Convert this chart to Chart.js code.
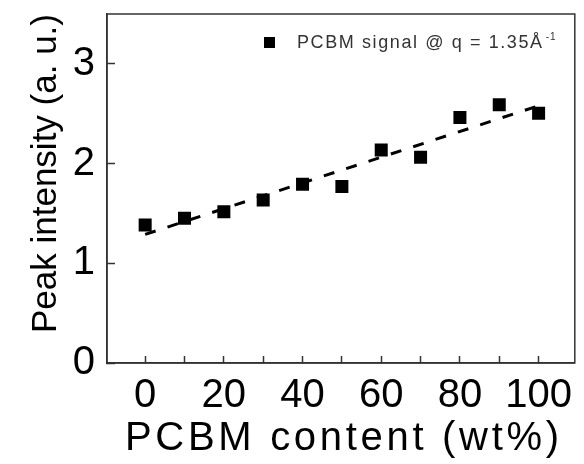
<!DOCTYPE html>
<html>
<head>
<meta charset="utf-8">
<script src="https://cdn.jsdelivr.net/npm/chart.js@4.4.1/dist/chart.umd.min.js"></script>
<style>
    html, body { margin: 0; padding: 0; background: #fff; }
    #wrap { width: 584px; height: 464px; }
</style>
</head>
<body>
<div id="wrap"><canvas id="peakChart"></canvas></div>
<script>
// values
const pcbmContent = [0, 10, 20, 30, 40, 50, 60, 70, 80, 90, 100];
const peakIntensity = [1.385, 1.452, 1.518, 1.635, 1.793, 1.769, 2.137, 2.064, 2.461, 2.589, 2.505];
// dashed linear fit
const fitContent = [0, 100];
const fitIntensity = [1.29, 2.58];

const xTicks = [0, 10, 20, 30, 40, 50, 60, 70, 80, 90, 100];
const xLabels = [0, 20, 40, 60, 80, 100];
const yTicks = [0, 0.5, 1, 1.5, 2, 2.5, 3, 3.5];
const yLabels = [0, 1, 2, 3];

const xTitle = 'PCBM content (wt%)';
const yTitle = 'Peak intensity (a. u.)';
const legendLabel = 'PCBM signal @ q = 1.35Å';
const legendSup = '-1';

const FONT = "'Liberation Sans', Arial, sans-serif";
const AXIS = '#333';

// box around the plot, spaced-out x title, legend in the top right corner
const frameLegend = {
    id: 'frameLegend',
    afterDraw(chart) {
        const ctx = chart.ctx;
        const a = chart.chartArea;
        ctx.save();
        ctx.strokeStyle = AXIS;
        ctx.lineWidth = 1.5;
        ctx.strokeRect(a.left, a.top, a.right - a.left, a.bottom - a.top);

        ctx.fillStyle = '#000';
        ctx.font = '40px ' + FONT;
        ctx.letterSpacing = '3.7px';
        ctx.textAlign = 'center';
        ctx.textBaseline = 'alphabetic';
        ctx.fillText(xTitle, (a.left + a.right) / 2 + 3, 450);

        ctx.textAlign = 'left';
        ctx.fillRect(264, 37, 11, 11);
        ctx.fillStyle = '#333';
        ctx.font = '18px ' + FONT;
        ctx.letterSpacing = '1.6px';
        ctx.fillText(legendLabel, 297, 48);
        const w = ctx.measureText(legendLabel).width;
        ctx.font = '10px ' + FONT;
        ctx.letterSpacing = '1px';
        ctx.fillText(legendSup, 297 + w + 2, 40);
        ctx.restore();
    }
};

const peakChart = document.getElementById('peakChart').getContext('2d');
new Chart(peakChart, {
    type: 'scatter',
    data: {
        datasets: [{
            label: legendLabel,
            data: pcbmContent.map((x, i) => ({ x: x, y: peakIntensity[i] })),
            backgroundColor: '#000',
            borderWidth: 0,
            pointStyle: 'rect',
            pointRadius: 9.2,
            pointHoverRadius: 9.2
        }, {
            label: 'fit',
            data: fitContent.map((x, i) => ({ x: x, y: fitIntensity[i] })),
            showLine: true,
            borderColor: '#000',
            borderWidth: 3,
            borderDash: [11, 12.5],
            pointRadius: 0
        }]
    },
    options: {
        responsive: true,
        maintainAspectRatio: false,
        animation: false,
        layout: { padding: { top: 14, right: 5, left: 0, bottom: 0 } },
        plugins: {
            legend: { display: false },
            tooltip: { enabled: false }
        },
        scales: {
            x: {
                type: 'linear',
                min: -9.7,
                max: 109.2,
                afterBuildTicks: s => { s.ticks = xTicks.map(v => ({ value: v })); },
                afterFit: s => { s.height = 101; s.paddingLeft = 0; s.paddingRight = 0; },
                ticks: {
                    callback: v => xLabels.includes(v) ? String(v) : '',
                    font: { family: FONT, size: 40 },
                    color: '#000',
                    padding: 16,
                    maxRotation: 0,
                    autoSkip: false
                },
                grid: { drawOnChartArea: false, tickLength: -7, tickWidth: 1.5, tickColor: AXIS },
                border: { color: AXIS, width: 1.5 },
                title: { display: false }
            },
            y: {
                min: 0,
                max: 3.5,
                afterBuildTicks: s => { s.ticks = yTicks.map(v => ({ value: v })); },
                afterFit: s => { s.width = 107; s.paddingTop = 0; s.paddingBottom = 0; },
                ticks: {
                    callback: v => yLabels.includes(v) ? String(v) : '',
                    font: { family: FONT, size: 40 },
                    color: '#000',
                    padding: 20
                },
                grid: { drawOnChartArea: false, tickLength: -8, tickWidth: 1.5, tickColor: AXIS },
                border: { color: AXIS, width: 1.5 },
                title: {
                    display: true,
                    text: yTitle,
                    align: 'end',
                    font: { family: FONT, size: 35 },
                    color: '#000',
                    padding: { top: 25, bottom: 0 }
                }
            }
        }
    },
    plugins: [frameLegend]
});
</script>
</body>
</html>
